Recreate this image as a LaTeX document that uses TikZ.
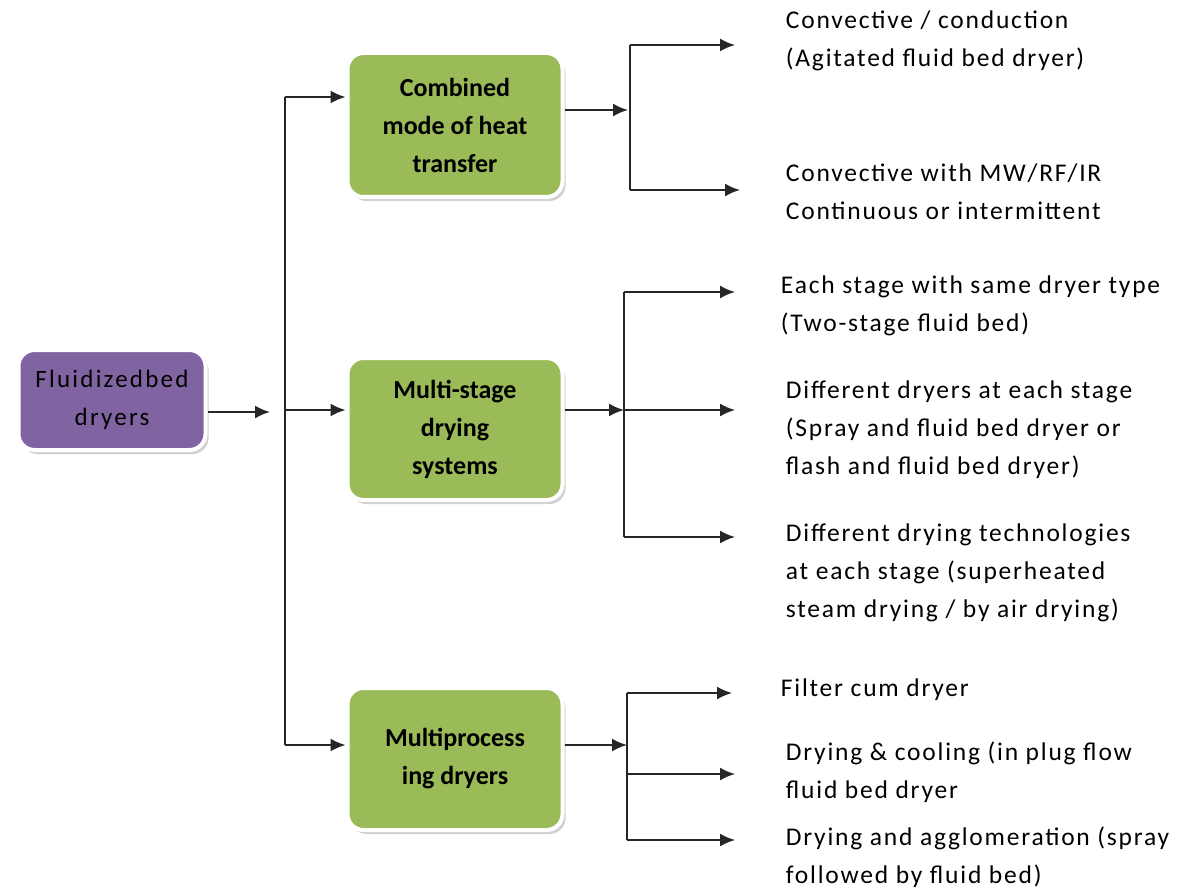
\documentclass[tikz,border=0pt]{standalone}
\usepackage{fontspec}
\setmainfont{Carlito}
\newfontfamily\lblfont[LetterSpace=7]{Carlito}
\newfontfamily\fbfont[LetterSpace=9]{Carlito}
\usetikzlibrary{arrows.meta,shadows}
\begin{document}
\begin{tikzpicture}[x=1pt,y=-1pt,
  line width=1.9pt,
  arr/.style={-{Latex[length=15pt,width=13pt]}, draw=black!85},
  ln/.style={draw=black!85},
  boxbase/.style={rounded corners=16pt, draw=white, line width=4pt,
     drop shadow={shadow xshift=3pt, shadow yshift=-4pt, fill=black!30, opacity=0.6},
     align=center, font=\fontsize{26}{38}\selectfont\bfseries, inner sep=0pt},
  purplebox/.style={boxbase, fill=violet1, minimum width=187pt, minimum height=100pt, font=\fontsize{25}{38}\fbfont},
  greenbox/.style={boxbase, fill=green1, minimum width=215pt, minimum height=144pt},
  lbl/.style={anchor=west, align=left, inner sep=0pt, font=\fontsize{25.5}{38}\lblfont}
]
\definecolor{violet1}{HTML}{8064A2}
\definecolor{green1}{HTML}{9BBB59}
\useasboundingbox (0,0) rectangle (1182,893);

% boxes
\node[purplebox] (fb) at (112,400) {Fluidizedbed\\dryers};
\node[greenbox] (c1) at (455,125) {Combined\\mode of heat\\transfer};
\node[greenbox, minimum height=142pt] (c2) at (455,429) {Multi-stage\\drying\\systems};
\node[greenbox, minimum height=142pt] (c3) at (455,759) {Multiprocess\\ing dryers};

% main trunk
\coordinate (a0) at (270,412);
\coordinate (t1) at (285,97);
\coordinate (t2) at (285,410);
\coordinate (t3) at (285,745);
\draw[arr] (fb.east |- a0) -- (a0);
\draw[ln] (t1) -- (t3);
\draw[arr] (t1) -- (c1.west |- t1);
\draw[arr] (t2) -- (c2.west |- t2);
\draw[arr] (t3) -- (c3.west |- t3);

% labels
\node[lbl] (l1) at (785,41) {Convective / conduction\\(Agitated fluid bed dryer)};
\node[lbl] (l2) at (785,192) {Convective with MW/RF/IR\\Continuous or intermittent};
\node[lbl] (l3) at (780,306) {Each stage with same dryer type\\(Two-stage fluid bed)};
\node[lbl] (l4) at (785,430) {Different dryers at each stage\\(Spray and fluid bed dryer or\\flash and fluid bed dryer)};
\node[lbl] (l5) at (785,573) {Different drying technologies\\at each stage (superheated\\steam drying / by air drying)};
\node[lbl] (l6) at (780,690) {Filter cum dryer};
\node[lbl] (l7) at (785,772) {Drying \& cooling (in plug flow\\fluid bed dryer};
\node[lbl] (l8) at (785,857) {Drying and agglomeration (spray\\followed by fluid bed)};

% branch 1
\coordinate (b1) at (628,110);
\coordinate (b1t) at (630,45);
\coordinate (b1b) at (630,190);
\draw[arr] (c1.east |- b1) -- (b1);
\draw[ln] (b1t) -- (b1b);
\draw[arr] (b1t) -- (735,45) coordinate (e1);
\draw[arr] (b1b) -- (740,190) coordinate (e2);

% branch 2
\coordinate (b2) at (624,410);
\coordinate (b2t) at (624,292);
\coordinate (b2b) at (624,537);
\draw[arr] (c2.east |- b2) -- (b2);
\draw[ln] (b2t) -- (b2b);
\draw[arr] (b2t) -- (735,292) coordinate (e3);
\draw[arr] (b2) -- (735,410) coordinate (e4);
\draw[arr] (b2b) -- (735,537) coordinate (e5);

% branch 3
\coordinate (b3) at (627,745);
\coordinate (b3t) at (627,693);
\coordinate (b3m) at (627,774);
\coordinate (b3b) at (627,840);
\draw[arr] (c3.east |- b3) -- (b3);
\draw[ln] (b3t) -- (b3b);
\draw[arr] (b3t) -- (732,693) coordinate (e6);
\draw[arr] (b3m) -- (735,774) coordinate (e7);
\draw[arr] (b3b) -- (735,840) coordinate (e8);
\end{tikzpicture}
\end{document}
